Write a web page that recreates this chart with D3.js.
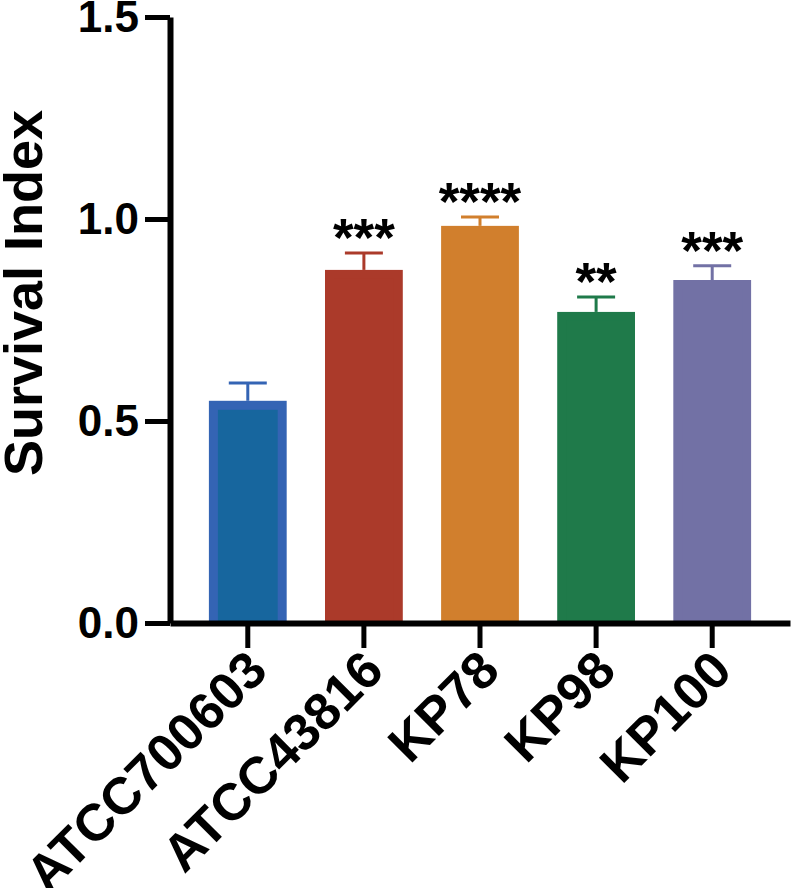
<!DOCTYPE html>
<html>
<head>
<meta charset="utf-8">
<script src="https://cdn.jsdelivr.net/npm/d3@7"></script>
<style>
  body{margin:0;background:#fff;}
  svg{font-family:"Liberation Sans",Arial,sans-serif;font-weight:bold;}
</style>
</head>
<body>
<div class="chart"></div>
<script>
let strains=['ATCC700603','ATCC43816','KP78','KP98','KP100']
let means=[0.55,0.874,0.983,0.770,0.849]
let errs=[0.044,0.042,0.022,0.037,0.035]
let stars=['','***','****','**','***']
let yTicks=[0,0.5,1.0,1.5]
let fills=['#17669e','#ab3a2a','#d17f2d','#1f7a4a','#7271a5']
let edges=['#3464b4','#ab3a2a','#d17f2d','#1f7a4a','#7271a5']

let w=800, h=888
let svg=d3.select('.chart').append('svg').attr('width',w).attr('height',h)

let x=d3.scaleBand().domain(strains).range([170,790]).paddingInner(0.33).paddingOuter(0.335)
let y=d3.scaleLinear().domain([0,1.5]).range([623,17])

// bars
let g=svg.append('g')
g.selectAll('.bar').data(strains).enter().append('rect')
  .attr('x',d=>x(d)).attr('width',x.bandwidth())
  .attr('y',(d,i)=>y(means[i])).attr('height',(d,i)=>y(0)-y(means[i]))
  .attr('fill',(d,i)=>edges[i])
// inner fill (only differs for the blue one)
let inset=9
g.selectAll('.inner').data(strains).enter().append('rect')
  .attr('x',d=>x(d)+inset).attr('width',x.bandwidth()-2*inset)
  .attr('y',(d,i)=>y(means[i])+inset).attr('height',(d,i)=>y(0)-y(means[i])-inset)
  .attr('fill',(d,i)=>fills[i])

// error bars
let cap=19
strains.forEach((d,i)=>{
  let cx=x(d)+x.bandwidth()/2
  g.append('line').attr('x1',cx).attr('x2',cx)
    .attr('y1',y(means[i])).attr('y2',y(means[i]+errs[i]))
    .attr('stroke',edges[i]).attr('stroke-width',3)
  g.append('line').attr('x1',cx-cap).attr('x2',cx+cap)
    .attr('y1',y(means[i]+errs[i])).attr('y2',y(means[i]+errs[i]))
    .attr('stroke',edges[i]).attr('stroke-width',3)
  if(stars[i]){
    g.append('text').text(stars[i]).attr('x',cx).attr('y',y(means[i]+errs[i])+3)
      .attr('text-anchor','middle').style('font-size','53px').attr('fill','#000')
  }
})

// axes
let yAxis=d3.axisLeft(y).tickValues(yTicks).tickFormat(d3.format('.1f')).tickSize(25).tickSizeOuter(0).tickPadding(6)
let ya=svg.append('g').attr('transform','translate(170,0)').call(yAxis)
ya.select('.domain').attr('stroke','#000').attr('stroke-width',6)
ya.selectAll('.tick line').attr('stroke','#000').attr('stroke-width',5)
ya.selectAll('.tick text').style('font-size','44px').style('font-family','"Liberation Sans",Arial,sans-serif').style('font-weight','bold').attr('fill','#000')

let xAxis=d3.axisBottom(x).tickSize(25).tickSizeOuter(0)
let xa=svg.append('g').attr('transform','translate(0,623)').call(xAxis)
xa.select('.domain').attr('stroke','#000').attr('stroke-width',6)
xa.selectAll('.tick line').attr('stroke','#000').attr('stroke-width',5)
xa.selectAll('.tick text')
  .style('font-size','52px').style('font-family','"Liberation Sans",Arial,sans-serif').style('font-weight','bold').attr('fill','#000')
  .attr('text-anchor','end').attr('y',0).attr('dy',0)
  .attr('transform','translate(22,50) rotate(-45)')

svg.append('text').text('Survival Index')
  .attr('transform','translate(42,293) rotate(-90)')
  .attr('text-anchor','middle').style('font-size','54px').attr('fill','#000')
</script>
</body>
</html>
